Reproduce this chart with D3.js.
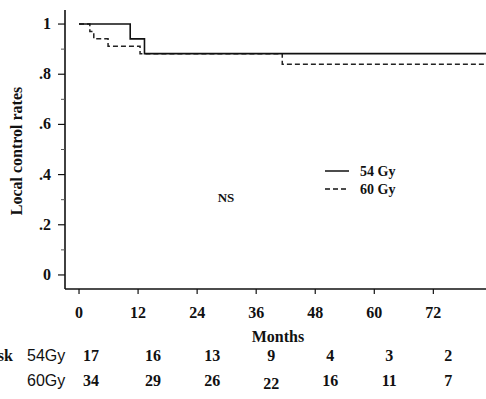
<!DOCTYPE html>
<html>
<head>
<meta charset="utf-8">
<script src="https://cdn.jsdelivr.net/npm/d3@7"></script>
<style>
  body { margin: 0; background: #fff; }
  svg text { font-family: "Liberation Serif", "Times New Roman", serif; font-weight: bold; fill: #111; }
  .sans { font-family: "Liberation Sans", Arial, sans-serif !important; font-weight: normal !important; }
</style>
</head>
<body>
<div id="chart"></div>
<script>
// step curves: [month, survival]
var gy54 = [[0, 1], [10.4, 0.941], [13.3, 0.882], [83, 0.882]];
var gy60 = [[0, 1], [2.2, 0.97], [3.0, 0.941], [5.9, 0.912], [12.4, 0.882], [41.3, 0.84], [83, 0.84]];

var xTicks = [0, 12, 24, 36, 48, 60, 72];
var yTicks = [0, 0.2, 0.4, 0.6, 0.8, 1];
var yMinor = [0.1, 0.3, 0.5, 0.7, 0.9];
var yTickLabels = ["0", ".2", ".4", ".6", ".8", "1"];

var riskGroups = ["54Gy", "60Gy"];
var risk54 = [17, 16, 13, 9, 4, 3, 2];
var risk60 = [34, 29, 26, 22, 16, 11, 7];

var W = 486, H = 399;

var svg = d3.select('#chart')
  .append('svg')
  .attr('width', W)
  .attr('height', H);

var x = d3.scaleLinear().domain([-2.85, 82.7]).range([65, 486]);
var y = d3.scaleLinear().domain([-0.056, 1.056]).range([289, 10]);

// axes lines
svg.append("line")
  .attr("x1", 65).attr("x2", 65)
  .attr("y1", 10).attr("y2", 289)
  .attr("stroke", "#111").attr("stroke-width", 1.6);
svg.append("line")
  .attr("x1", 65).attr("x2", W)
  .attr("y1", 289).attr("y2", 289)
  .attr("stroke", "#111").attr("stroke-width", 1.6);

// y ticks
svg.selectAll(".ytick")
  .data(yTicks)
  .enter().append("line")
  .attr("x1", 58).attr("x2", 65)
  .attr("y1", function(d) { return y(d); })
  .attr("y2", function(d) { return y(d); })
  .attr("stroke", "#111").attr("stroke-width", 1.2);
svg.selectAll(".yminor")
  .data(yMinor)
  .enter().append("line")
  .attr("x1", 61).attr("x2", 65)
  .attr("y1", function(d) { return y(d); })
  .attr("y2", function(d) { return y(d); })
  .attr("stroke", "#555").attr("stroke-width", 1);
svg.selectAll(".ylab")
  .data(yTicks)
  .enter().append("text")
  .attr("x", 51)
  .attr("y", function(d) { return y(d) + 5; })
  .attr("text-anchor", "end")
  .style("font-size", "16px")
  .text(function(d, i) { return yTickLabels[i]; });

// x ticks
svg.selectAll(".xtick")
  .data(xTicks)
  .enter().append("line")
  .attr("x1", function(d) { return x(d); })
  .attr("x2", function(d) { return x(d); })
  .attr("y1", 289).attr("y2", 294)
  .attr("stroke", "#111").attr("stroke-width", 1.2);
svg.selectAll(".xlab")
  .data(xTicks)
  .enter().append("text")
  .attr("x", function(d) { return x(d); })
  .attr("y", 318)
  .attr("text-anchor", "middle")
  .style("font-size", "16px")
  .text(function(d) { return d; });

svg.append("text")
  .attr("x", 278).attr("y", 342)
  .attr("text-anchor", "middle")
  .style("font-size", "16px")
  .text("Months");

svg.append("text")
  .attr("transform", "translate(22,151) rotate(-90)")
  .attr("text-anchor", "middle")
  .style("font-size", "16px")
  .text("Local control rates");

// curves
var line = d3.line()
  .x(function(d) { return x(d[0]); })
  .y(function(d) { return y(d[1]); })
  .curve(d3.curveStepAfter);

svg.append("path")
  .datum(gy60)
  .attr("d", line)
  .attr("fill", "none")
  .attr("stroke", "#222")
  .attr("stroke-width", 1.5)
  .attr("stroke-dasharray", "5,3");

svg.append("path")
  .datum(gy54)
  .attr("d", line)
  .attr("fill", "none")
  .attr("stroke", "#111")
  .attr("stroke-width", 1.6);

// legend
var leg = [{ name: "54 Gy", dash: null, yy: 171 }, { name: "60 Gy", dash: "5,3", yy: 189 }];
leg.forEach(function(l) {
  svg.append("line")
    .attr("x1", 325).attr("x2", 349)
    .attr("y1", l.yy).attr("y2", l.yy)
    .attr("stroke", "#111").attr("stroke-width", 1.5)
    .attr("stroke-dasharray", l.dash);
  svg.append("text")
    .attr("x", 360).attr("y", l.yy + 5)
    .style("font-size", "14px")
    .text(l.name);
});

svg.append("text")
  .attr("x", 226).attr("y", 202)
  .attr("text-anchor", "middle")
  .style("font-size", "13px")
  .text("NS");

// numbers at risk
svg.append("text")
  .attr("x", 13).attr("y", 361)
  .attr("text-anchor", "end")
  .style("font-size", "16px")
  .text("At risk");

[risk54, risk60].forEach(function(row, r) {
  var yy = r === 0 ? 361 : 386;
  svg.append("text")
    .attr("class", "sans")
    .attr("x", 27).attr("y", yy)
    .style("font-size", "16px")
    .text(riskGroups[r]);
  svg.selectAll(".risk" + r)
    .data(row)
    .enter().append("text")
    .attr("x", function(d, i) { return x(xTicks[i]) + (i === 0 ? 12 : 15); })
    .attr("y", function(d) { return d === 22 ? yy + 3 : yy; })
    .attr("text-anchor", "middle")
    .style("font-size", "16px")
    .text(function(d) { return d; });
});
</script>
</body>
</html>
